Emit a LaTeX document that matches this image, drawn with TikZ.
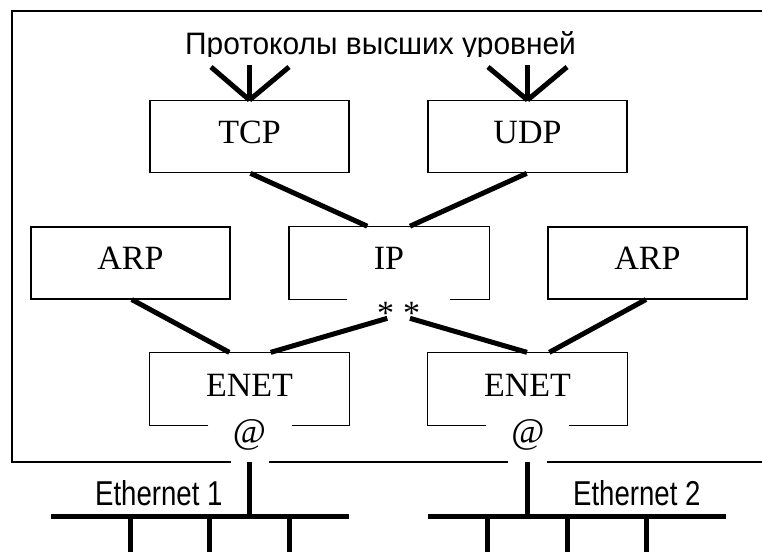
\documentclass[tikz,border=0pt]{standalone}
\usepackage{graphicx}
\usepackage{fontspec}
\setmainfont{Liberation Serif}
\newfontfamily\arialf{Liberation Sans}
\usetikzlibrary{calc}
\begin{document}
\begin{tikzpicture}[x=1pt,y=-1pt,
  box/.style={draw, line width=1.3pt, minimum width=199pt, minimum height=72pt, inner sep=0pt,
              text height=22.5pt, text depth=8.5pt, font=\fontsize{34}{36}\selectfont},
  gbox/.style={box, draw=none},
  edge/.style={line width=1.3pt},
  conn/.style={line width=5pt},
  frm/.style={line width=2pt},
  lbl/.style={inner sep=0pt, anchor=base},
  sanslbl/.style={lbl, font=\arialf\fontsize{31}{33}\selectfont},
  ethlbl/.style={lbl, font=\arialf\fontsize{34.5}{36}\selectfont},
  atlbl/.style={lbl, font=\fontsize{36}{38}\selectfont},
  astlbl/.style={lbl, font=\fontsize{34}{36}\selectfont},
]
\useasboundingbox (0,0) rectangle (762,551);

% outer frame with gaps
\coordinate (f1) at (249.5,461.7);
\coordinate (f2) at (527.5,461.7);
\draw[frm] (230.7,461.7) -| (11.7,10.7) -- (764,10.7);
\draw[frm] (269.3,461.7) -- (508.3,461.7);
\draw[frm] (547.3,461.7) -- (764,461.7);

% title (descenders clipped as in the reference)
\begin{scope}
  \clip (150,20) rectangle (620,57);
  \node[sanslbl] (title) at (380.5,55) {\scalebox{0.965}[1]{Протоколы высших уровней}};
\end{scope}

% boxes
\node[box] (tcp) at (249.5,136.7) {TCP};
\node[box] (udp) at (527.5,136.7) {UDP};
\node[box] (arpl) at (130.5,262.85) {ARP};
\node[gbox] (ip) at (389,262.85) {IP};
\node[box] (arpr) at (647.5,262.85) {ARP};
\node[gbox] (enetl) at (249.5,389) {ENET};
\node[gbox] (enetr) at (527.5,389) {ENET};

% gapped outlines
\draw[edge] ($(ip.south west)+(58.2,0)$) -| (ip.north west) -| (ip.south east) -- ++(-39.2,0);
\draw[edge] ($(enetl.south west)+(59,0)$) -| (enetl.north west) -| (enetl.south east) -- ++(-58,0);
\draw[edge] ($(enetr.south west)+(59,0)$) -| (enetr.north west) -| (enetr.south east) -- ++(-58.3,0);

% upper-level fan lines
\coordinate (ta) at (211,67);
\coordinate (tb) at (249.5,65);
\coordinate (tc) at (289,67);
\coordinate (ua) at (488,67);
\coordinate (ub) at (527.5,65);
\coordinate (uc) at (567,67);
\draw[conn] (ta) -- (tcp.north);
\draw[conn] (tb) -- (tcp.north);
\draw[conn] (tc) -- (tcp.north);
\draw[conn] (ua) -- (udp.north);
\draw[conn] (ub) -- (udp.north);
\draw[conn] (uc) -- (udp.north);

% TCP/UDP -> IP
\draw[conn] ($(tcp.south)+(1,0)$) -- ($(ip.north)+(-21.7,0)$);
\draw[conn] ($(udp.south)+(-0.8,0)$) -- ($(ip.north)+(21,0)$);

% asterisks
\node[astlbl] (ast1) at (385.7,324.3) {*};
\node[astlbl] (ast2) at (411.7,324.3) {*};

% ARP -> ENET, IP -> ENET
\draw[conn] ($(arpl.south)+(1.2,0)$) -- ($(enetl.north)+(-20.2,0)$);
\draw[conn] ($(ast1.base)+(1.6,-6)$) -- ($(enetl.north)+(21.2,0)$);
\draw[conn] ($(ast2.base)+(-1.7,-6)$) -- ($(enetr.north)+(-0.5,0)$);
\draw[conn] ($(arpr.south)+(-1.5,0)$) -- ($(enetr.north)+(21.8,0)$);

% @ marks
\node[atlbl] (at1) at (249.4,443.5) {@};
\node[atlbl] (at2) at (528,443.5) {@};

% Ethernet buses
\coordinate (b1l) at (51,516);
\coordinate (b1r) at (349,516);
\coordinate (b1c) at (249.5,516);
\coordinate (b2l) at (428.3,516);
\coordinate (b2r) at (726,516);
\coordinate (b2c) at (527.5,516);
\draw[conn] (b1l) -- (b1r);
\draw[conn] (b2l) -- (b2r);
\draw[conn] (f1) -- (b1c);
\draw[conn] (f2) -- (b2c);
\foreach \xx [count=\i] in {130,209.3,289}{
  \coordinate (d1\i) at (\xx,516);
  \draw[conn] (d1\i) -- ++(0,37);
}
\foreach \xx [count=\i] in {487.7,567.3,646.7}{
  \coordinate (d2\i) at (\xx,516);
  \draw[conn] (d2\i) -- ++(0,37);
}

\node[ethlbl] (eth1) at (158.8,505.7) {\scalebox{0.8}[1]{Ethernet 1}};
\node[ethlbl] (eth2) at (636.8,505.7) {\scalebox{0.8}[1]{Ethernet 2}};
\end{tikzpicture}
\end{document}
